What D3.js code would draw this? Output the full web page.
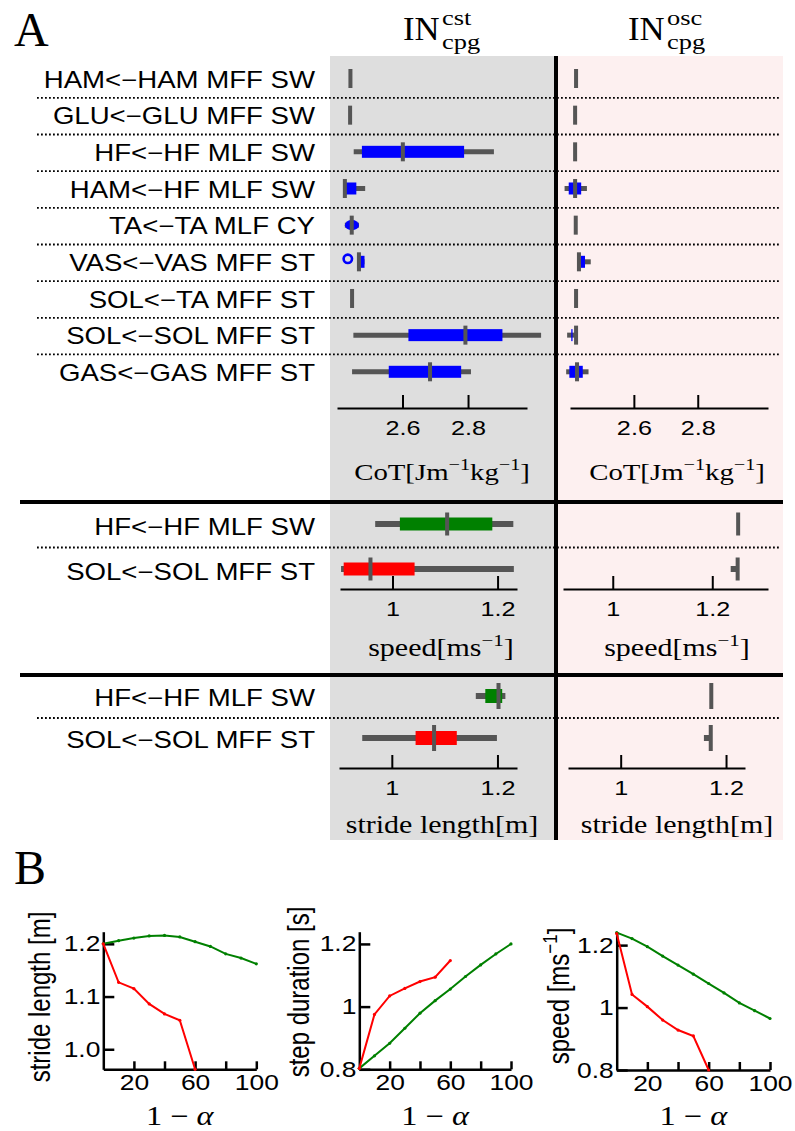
<!DOCTYPE html>
<html>
<head>
<meta charset="utf-8">
<script src="https://cdn.jsdelivr.net/npm/d3@7"></script>
<style>
  body { margin: 0; background: #fff; }
  svg { display: block; }
</style>
</head>
<body>
<div class="canvas"></div>
<script>
// ---------- DATA ----------
// panel A, cost of transport rows
const cotRows = [
  'HAM<−HAM MFF SW', 'GLU<−GLU MFF SW', 'HF<−HF MLF SW', 'HAM<−HF MLF SW', 'TA<−TA MLF CY',
  'VAS<−VAS MFF ST', 'SOL<−TA MFF ST', 'SOL<−SOL MFF ST', 'GAS<−GAS MFF ST'
];
// [whisker lo, box lo, median, box hi, whisker hi]
const cotCst = [
  [2.441, 2.441, 2.441, 2.441, 2.441],
  [2.440, 2.440, 2.440, 2.440, 2.440],
  [2.451, 2.476, 2.601, 2.788, 2.879],
  [2.424, 2.425, 2.424, 2.459, 2.486],
  [2.424, 2.424, 2.445, 2.467, 2.467],
  [2.461, 2.461, 2.467, 2.484, 2.484],
  [2.446, 2.446, 2.446, 2.446, 2.446],
  [2.450, 2.618, 2.792, 2.905, 3.023],
  [2.446, 2.558, 2.684, 2.779, 2.809]
];
const cotOsc = [
  [2.419, 2.419, 2.419, 2.419, 2.419],
  [2.416, 2.416, 2.416, 2.416, 2.416],
  [2.416, 2.416, 2.416, 2.416, 2.416],
  [2.383, 2.396, 2.416, 2.435, 2.453],
  [2.418, 2.418, 2.418, 2.418, 2.418],
  [2.428, 2.434, 2.428, 2.447, 2.465],
  [2.419, 2.419, 2.419, 2.419, 2.419],
  [2.391, 2.404, 2.419, 2.408, 2.419],
  [2.388, 2.398, 2.422, 2.440, 2.458]
];
const cotOutliersCst = [['VAS<−VAS MFF ST', 2.433]];
const cotTicks = [2.6, 2.8];
const cotDomainCst = [2.40, 2.98];
const cotDomainOsc = [2.40, 3.02];

// panel A, speed and stride rows
const gaitRows = ['HF<−HF MLF SW', 'SOL<−SOL MFF ST'];
const gaitColors = ['#008000', '#ff0000'];
const speedCst = [
  [0.967, 1.014, 1.104, 1.190, 1.230],
  [0.902, 0.907, 0.958, 1.042, 1.231]
];
const speedOsc = [
  [1.252, 1.252, 1.252, 1.252, 1.252],
  [1.237, 1.251, 1.251, 1.251, 1.251]
];
const strideCst = [
  [1.159, 1.177, 1.202, 1.209, 1.215],
  [0.944, 1.045, 1.080, 1.123, 1.199]
];
const strideOsc = [
  [1.172, 1.172, 1.172, 1.172, 1.172],
  [1.158, 1.171, 1.171, 1.171, 1.171]
];
const gaitTicks = [1, 1.2];
const speedDomainCst = [0.90, 1.237];
const speedDomainOsc = [0.90, 1.312];
const strideDomainCst = [0.90, 1.237];
const strideDomainOsc = [0.90, 1.236];

// panel B
const alphaSteps = [0, 10, 20, 30, 40, 50, 60, 70, 80, 90, 100];
const alphaTicks = [20, 40, 60, 80, 100];
const alphaLabels = [20, 60, 100];
const strideGreen = [1.200, 1.206, 1.211, 1.215, 1.216, 1.213, 1.204, 1.195, 1.181, 1.173, 1.162];
const strideRed = [1.200, 1.127, 1.115, 1.086, 1.067, 1.055, 0.962];
const durGreen = [0.803, 0.843, 0.883, 0.931, 0.979, 1.019, 1.056, 1.096, 1.133, 1.168, 1.200];
const durRed = [0.803, 0.975, 1.034, 1.058, 1.080, 1.094, 1.147];
const speedGreen = [1.240, 1.221, 1.195, 1.165, 1.136, 1.107, 1.077, 1.047, 1.015, 0.990, 0.965];
const speedRed = [1.237, 1.042, 1.003, 0.960, 0.928, 0.909, 0.800];
const strideYTicks = [1.0, 1.1, 1.2];
const durYTicks = [0.8, 1, 1.2];
const speedYTicks = [0.8, 1, 1.2];

// ---------- SETUP ----------
const SANS = "'Liberation Sans', Arial, Helvetica, sans-serif";
const SERIF = "'Liberation Serif', 'Times New Roman', serif";
const GRAY = '#555555';
const SX = 1.2; // the figure is a bit wider than tall

const svg = d3.select('.canvas')
  .append('svg')
  .attr('width', 795)
  .attr('height', 1131);

// text in a horizontally stretched group
const txt = (parent, x, y, s, o = {}) => {
  const g = parent.append('g')
    .attr('transform', `translate(${x},${y}) scale(${o.sx || SX},1)${o.rot ? ` rotate(${o.rot})` : ''}`);
  const t = g.append('text')
    .attr('text-anchor', o.anchor || 'start')
    .attr('font-size', o.size || 22)
    .attr('font-family', o.family || SANS)
    .attr('fill', '#000');
  if (o.dy) t.attr('dy', o.dy);
  if (s) t.text(s);
  return t;
};

// parts: [text, 'sup' | 'it' | null]
const mathTxt = (parent, x, y, parts, o = {}) => {
  const t = txt(parent, x, y, '', { ...o, family: o.family || SERIF });
  const size = o.size || 24;
  let up = false;
  parts.forEach(([s, kind]) => {
    const sp = t.append('tspan').text(s);
    if (kind === 'sup') {
      sp.attr('font-size', size * 0.7).attr('dy', up ? 0 : -size * 0.42);
      up = true;
    } else {
      sp.attr('dy', up ? size * 0.42 : 0);
      up = false;
      if (kind === 'it') sp.attr('font-style', 'italic');
    }
  });
  return t;
};

// ---------- PANEL A BACKGROUND ----------
const bg = svg.append('g');
bg.append('rect').attr('x', 330).attr('y', 56).attr('width', 226).attr('height', 784).attr('fill', '#dedede');
bg.append('rect').attr('x', 556).attr('y', 56).attr('width', 227).attr('height', 784).attr('fill', '#fdf0f0');

const graph = svg.append('g');

const dotted = (y) => graph.append('line')
  .attr('x1', 37).attr('x2', 780)
  .attr('y1', y).attr('y2', y)
  .attr('stroke', '#000')
  .attr('stroke-width', 1.8)
  .attr('stroke-dasharray', '1.8,2.2');

const drawBox = (g, x, yc, st, color, dims) => {
  const [wl, bl, med, bh, wh] = st;
  if (wh > wl) {
    g.append('line')
      .attr('x1', x(wl)).attr('x2', x(wh))
      .attr('y1', yc).attr('y2', yc)
      .attr('stroke', GRAY)
      .attr('stroke-width', dims.wt);
  }
  if (bh > bl) {
    const w = x(bh) - x(bl);
    // the tiny box with no whiskers prints as a blob
    const round = dims.round && w >= 13.6 && w < 20;
    g.append('rect')
      .attr('x', x(bl)).attr('y', yc - (round ? dims.bh * 0.42 : dims.bh / 2))
      .attr('width', w).attr('height', round ? dims.bh * 0.84 : dims.bh)
      .attr('rx', round ? w / 2 : 0).attr('ry', round ? dims.bh * 0.42 : 0)
      .attr('fill', color);
  }
  g.append('rect')
    .attr('x', x(med) - 2).attr('y', yc - dims.th / 2)
    .attr('width', 4).attr('height', dims.th)
    .attr('fill', GRAY);
};

const bottomAxis = (x, y, ticks) => {
  const ax = d3.axisBottom(x)
    .tickValues(ticks)
    .tickSizeInner(-13)
    .tickSizeOuter(0)
    .tickPadding(12)
    .tickFormat((d) => d);
  const a = graph.append('g').attr('transform', `translate(0,${y})`).call(ax);
  a.select('.domain').attr('stroke-width', 2);
  a.selectAll('.tick line').attr('stroke-width', 2);
  a.selectAll('.tick text')
    .attr('font-size', 21)
    .attr('font-family', SANS)
    .attr('fill', '#000')
    .attr('transform', `scale(${SX},1)`);
};

const section = (rows, ys, stats, scales, colors, dims, labelDy) => {
  rows.forEach((r, i) => {
    txt(graph, 315, ys(r) + labelDy, r, { anchor: 'end', size: 23, dy: '0.35em' });
    if (i < rows.length - 1) dotted((ys(r) + ys(rows[i + 1])) / 2 + 1);
  });
  stats.forEach((col, c) => {
    col.forEach((st, i) => drawBox(graph, scales[c], ys(rows[i]), st, colors(i), dims));
  });
};

// ---------- COT ----------
const cotY = d3.scalePoint().domain(cotRows).range([78.5, 371.8]);
const cotXc = d3.scaleLinear().domain(cotDomainCst).range([337, 527]);
const cotXo = d3.scaleLinear().domain(cotDomainOsc).range([570, 768]);
section(cotRows, cotY, [cotCst, cotOsc], [cotXc, cotXo], () => '#0000ff', { wt: 5, bh: 12, th: 19, round: true }, 1);
cotOutliersCst.forEach(([r, v]) => {
  graph.append('circle')
    .attr('cx', cotXc(v)).attr('cy', cotY(r) - 3)
    .attr('r', 4.2)
    .attr('fill', 'none')
    .attr('stroke', '#0000ff')
    .attr('stroke-width', 2.6);
});
bottomAxis(cotXc, 408, cotTicks);
bottomAxis(cotXo, 408, cotTicks);
const cotLabel = [['CoT[Jm'], ['−1', 'sup'], ['kg'], ['−1', 'sup'], [']']];
mathTxt(graph, 442, 480, cotLabel, { anchor: 'middle', size: 24 });
mathTxt(graph, 677, 480, cotLabel, { anchor: 'middle', size: 24 });

// ---------- SPEED ----------
const speedY = d3.scalePoint().domain(gaitRows).range([524, 569]);
const speedXc = d3.scaleLinear().domain(speedDomainCst).range([340, 517]);
const speedXo = d3.scaleLinear().domain(speedDomainOsc).range([563, 768]);
section(gaitRows, speedY, [speedCst, speedOsc], [speedXc, speedXo], (i) => gaitColors[i], { wt: 6, bh: 13, th: 23 }, 3);
bottomAxis(speedXc, 589, gaitTicks);
bottomAxis(speedXo, 589, gaitTicks);
const speedLabel = [['speed[ms'], ['−1', 'sup'], [']']];
mathTxt(graph, 441, 656, speedLabel, { anchor: 'middle', size: 25 });
mathTxt(graph, 677, 656, speedLabel, { anchor: 'middle', size: 25 });

// ---------- STRIDE ----------
const strideY = d3.scalePoint().domain(gaitRows).range([696, 738]);
const strideXc = d3.scaleLinear().domain(strideDomainCst).range([339, 517]);
const strideXo = d3.scaleLinear().domain(strideDomainOsc).range([568, 745]);
section(gaitRows, strideY, [strideCst, strideOsc], [strideXc, strideXo], (i) => gaitColors[i], { wt: 6, bh: 14, th: 26 }, 2);
bottomAxis(strideXc, 768, gaitTicks);
bottomAxis(strideXo, 768, gaitTicks);
mathTxt(graph, 442, 833, [['stride length[m]']], { anchor: 'middle', size: 25 });
mathTxt(graph, 677, 833, [['stride length[m]']], { anchor: 'middle', size: 25 });

// ---------- FRAME LINES ----------
[502, 675].forEach((y) => {
  graph.append('line')
    .attr('x1', 20).attr('x2', 783)
    .attr('y1', y).attr('y2', y)
    .attr('stroke', '#000').attr('stroke-width', 4);
});
graph.append('line')
  .attr('x1', 556).attr('x2', 556)
  .attr('y1', 56).attr('y2', 840)
  .attr('stroke', '#000').attr('stroke-width', 4);

// ---------- HEADERS ----------
txt(svg, 14, 46, 'A', { size: 48, family: SERIF, sx: 1 });
txt(svg, 14, 884, 'B', { size: 48, family: SERIF, sx: 1 });
[['cst', 403], ['osc', 628]].forEach(([sup, x]) => {
  txt(svg, x, 40, 'IN', { size: 33, family: SERIF, sx: 1.05 });
  txt(svg, x + 39, 25, sup, { size: 22, family: SERIF });
  txt(svg, x + 39, 49, 'cpg', { size: 22, family: SERIF });
});

// ---------- PANEL B ----------
const plots = [
  { x0: 103.3, x1: 256.3, yb: 1069.3, yt: 931.7, dom: [0.962, 1.223], ticks: strideYTicks, fmt: d3.format('.1f'),
    green: strideGreen, red: strideRed, label: [['stride length [m]']], lx: 50, ly: 997 },
  { x0: 359.3, x1: 511, yb: 1069.3, yt: 931.7, dom: [0.8, 1.239], ticks: durYTicks, fmt: (d) => d,
    green: durGreen, red: durRed, label: [['step duration [s]']], lx: 309, ly: 992 },
  { x0: 616.7, x1: 770, yb: 1070, yt: 931.7, dom: [0.8, 1.243], ticks: speedYTicks, fmt: (d) => d,
    green: speedGreen, red: speedRed, label: [['speed [ms'], ['−1', 'sup'], [']']], lx: 569, ly: 996 }
];

plots.forEach((p) => {
  const g = svg.append('g');
  const x = d3.scaleLinear().domain([0, 100]).range([p.x0, p.x1]);
  const y = d3.scaleLinear().domain(p.dom).range([p.yb, p.yt]);

  const xa = g.append('g')
    .attr('transform', `translate(0,${p.yb})`)
    .call(d3.axisBottom(x)
      .tickValues(alphaTicks)
      .tickSizeInner(-8)
      .tickSizeOuter(0)
      .tickPadding(5)
      .tickFormat((d) => (alphaLabels.includes(d) ? d : '')));
  const ya = g.append('g')
    .attr('transform', `translate(${p.x0},0)`)
    .call(d3.axisLeft(y)
      .tickValues(p.ticks)
      .tickSizeInner(-11)
      .tickSizeOuter(0)
      .tickPadding(3)
      .tickFormat(p.fmt));
  [xa, ya].forEach((a) => {
    a.select('.domain').attr('stroke-width', 2.5);
    a.selectAll('.tick line').attr('stroke-width', 2.5);
    a.selectAll('.tick text')
      .attr('font-size', 22)
      .attr('font-family', SANS)
      .attr('fill', '#000')
      .attr('transform', `scale(${SX},1)`);
  });
  ya.selectAll('.tick text').attr('x', -3 / SX);

  [[p.green, '#008000'], [p.red, '#ff0000']].forEach(([vals, col]) => {
    const line = d3.line()
      .x((d, i) => x(alphaSteps[i]))
      .y((d) => y(d));
    g.append('path')
      .attr('d', line(vals))
      .attr('fill', 'none')
      .attr('stroke', col)
      .attr('stroke-width', 2);
    g.selectAll(null)
      .data(vals)
      .enter()
      .append('circle')
      .attr('cx', (d, i) => x(alphaSteps[i]))
      .attr('cy', (d) => y(d))
      .attr('r', 1.6)
      .attr('fill', col);
  });

  mathTxt(g, (p.x0 + p.x1) / 2, 1125, [['1 − '], ['α', 'it']], { anchor: 'middle', size: 27 });
  const yl = txt(g, p.lx, p.ly, '', { anchor: 'middle', size: 24, rot: -90 });
  let up = false;
  p.label.forEach(([s, kind]) => {
    const sp = yl.append('tspan').text(s);
    if (kind === 'sup') {
      sp.attr('font-size', 17).attr('dy', -10);
      up = true;
    } else {
      sp.attr('dy', up ? 10 : 0);
      up = false;
    }
  });
});
</script>
</body>
</html>
